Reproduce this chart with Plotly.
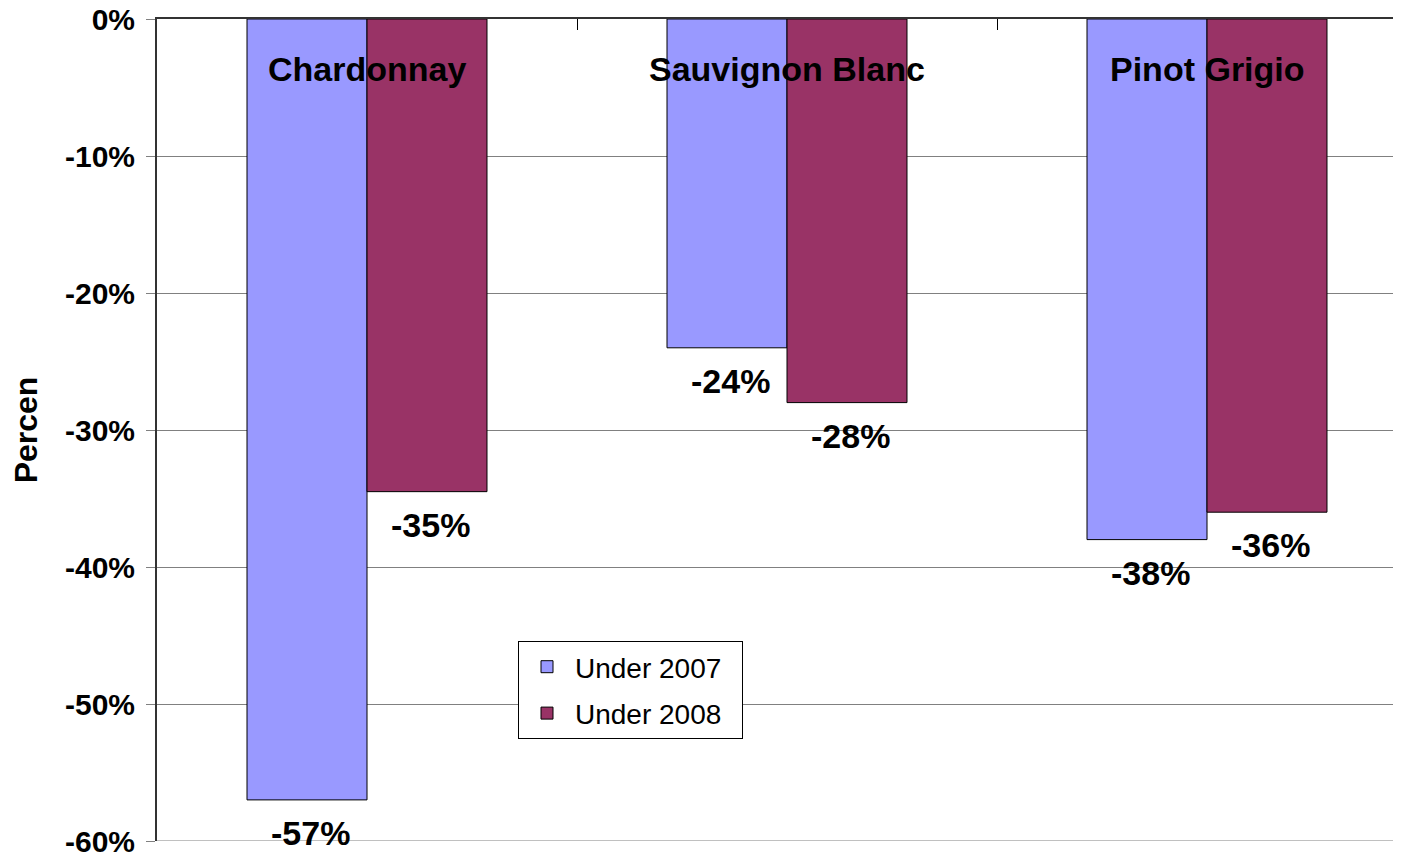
import plotly.graph_objects as go

categories = ["Chardonnay", "Sauvignon Blanc", "Pinot Grigio"]
under_2007 = [-0.57, -0.24, -0.38]
under_2008 = [-0.345, -0.28, -0.36]
labels_2007 = ["-57%", "-24%", "-38%"]
labels_2008 = ["-35%", "-28%", "-36%"]
y_ticks = [0, -0.1, -0.2, -0.3, -0.4, -0.5, -0.6]
y_tick_text = ["0%", "-10%", "-20%", "-30%", "-40%", "-50%", "-60%"]

FONT = "Liberation Sans, Arial, sans-serif"
C07 = "#9999FF"
C08 = "#993366"
PAD = "\u00a0\u00a0"

xs = list(range(len(categories)))
fig = go.Figure()
fig.add_trace(go.Bar(x=xs, y=under_2007, name="Under 2007" + PAD, legendgroup="a",
                     marker=dict(color=C07, line=dict(color="#000000", width=1))))
fig.add_trace(go.Bar(x=xs, y=under_2008, name="Under 2008" + PAD, legendgroup="b",
                     marker=dict(color=C08, line=dict(color="#000000", width=1))))

gap = 0.4286
bw = (1 - gap) / 2
ann = []
for i, c in enumerate(categories):
    ann.append(dict(x=i, y=0, xref="x", yref="y", text="<b>%s</b>" % c, showarrow=False,
                    yshift=-50, font=dict(family=FONT, size=34, color="#000000")))
    ann.append(dict(x=i - bw / 2, y=under_2007[i], xref="x", yref="y", text="<b>%s</b>" % labels_2007[i],
                    showarrow=False, yshift=-33, xshift=3, font=dict(family=FONT, size=34, color="#000000")))
    ann.append(dict(x=i + bw / 2, y=under_2008[i], xref="x", yref="y", text="<b>%s</b>" % labels_2008[i],
                    showarrow=False, yshift=-33, xshift=3, font=dict(family=FONT, size=34, color="#000000")))

fig.update_layout(
    width=1393, height=847,
    margin=dict(l=149, r=0, t=11, b=14, autoexpand=False),
    paper_bgcolor="white", plot_bgcolor="white",
    barmode="group", bargap=gap, bargroupgap=0,
    font=dict(family=FONT, color="#000000"),
    annotations=ann,
    showlegend=True,
    legend=dict(x=(510 - 149) / 1244, y=(833 - 633) / 822, xanchor="left", yanchor="top",
                bordercolor="#000000", borderwidth=1, bgcolor="white",
                font=dict(family=FONT, size=28, color="#000000"),
                itemwidth=46, tracegroupgap=7),
    shapes=[dict(type="line", xref="paper", yref="y", x0=0, x1=1, y0=-0.6, y1=-0.6,
                 line=dict(color="#808080", width=1), layer="above")],
    xaxis=dict(side="top", range=[-0.5, 2.5 - 16 / 420], tickvals=[0.5, 1.5], ticktext=["", ""],
               ticks="inside", ticklen=11, tickcolor="#000000", showticklabels=False,
               showgrid=False, zeroline=False, showline=True, linecolor="#333333", linewidth=2,
               mirror=False, automargin=False),
    yaxis=dict(range=[-0.6, 0], tickvals=y_ticks, ticktext=["<b>%s</b>" % t for t in y_tick_text],
               tickfont=dict(family=FONT, size=30, color="#000000"), ticklabeloverflow="allow",
               ticks="outside", ticklen=9, tickcolor="#808080", ticklabelstandoff=5,
               showgrid=True, gridcolor="#808080", gridwidth=1, zeroline=False,
               showline=True, linecolor="#333333", linewidth=2, automargin=False,
               title=dict(text="<b>Percen</b>", font=dict(family=FONT, size=32, color="#000000"), standoff=19)),
)

fig.write_html("out.html")
